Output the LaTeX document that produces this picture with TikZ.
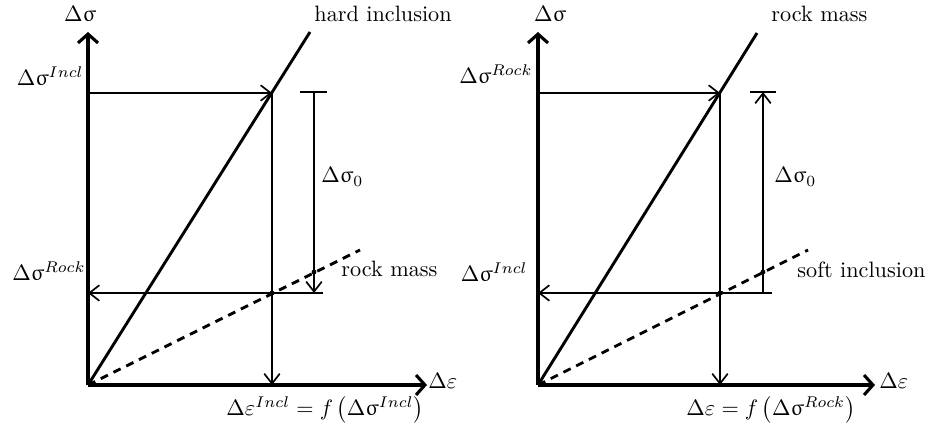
\documentclass[tikz,border=0pt]{standalone}
\usepackage{amsmath,amssymb}
\usepackage{upgreek}
\usepackage{tikz}
\usetikzlibrary{arrows.meta,positioning,calc}

\begin{document}
\begin{tikzpicture}[
  x=0.45pt, y=-0.45pt,
  axis/.style={line width=1.4pt, -{Straight Barb[length=4pt, width=9pt]}},
  curve/.style={line width=1.3pt},
  soft/.style={line width=1.3pt, dash pattern=on 3.6pt off 2.8pt},
  arr/.style={line width=0.75pt, -{Straight Barb[length=4.5pt, width=7pt]}},
  thin/.style={line width=0.75pt},
  dot/.style={circle, fill, inner sep=0pt, minimum size=2.2pt},
  lbl/.style={inner sep=0pt}
]
\useasboundingbox (0,0) rectangle (932,427);

% left: hard inclusion
\coordinate (oL) at (88,385);
\coordinate (yL) at (88,32);
\coordinate (xL) at (427,385);
\coordinate (hardEnd) at (310,32);
\coordinate (rockEndL) at (360,250);
\coordinate (topL) at (88,93);
\coordinate (hitL) at (272,93);
\coordinate (footL) at (272,385);
\coordinate (lowL) at (88,293);
\coordinate (lowEndL) at (323,293);
\coordinate (barLa) at (300,92);
\coordinate (barLb) at (327,92);
\coordinate (barLtop) at (314,92);
\coordinate (barLbot) at (314,293);
\node[dot] (crossL) at (272,293) {};
\node[dot] (cutL) at (314,272) {};

\draw[axis] (oL) -- (yL);
\draw[axis] (oL) -- (xL);
\draw[curve] (oL) -- (hardEnd);
\draw[soft] (oL) -- (rockEndL);
\draw[arr] (topL) -- (hitL);
\draw[arr] (hitL) -- (footL);
\draw[arr] (lowEndL) -- (lowL);
\draw[thin] (barLa) -- (barLb);
\draw[arr] (barLtop) -- (barLbot);

\node[lbl] (sigL) at (80,14) {$\Delta\upsigma$};
\node[lbl, anchor=west] (epsL) at (428,381) {$\Delta\varepsilon$};
\node[lbl, anchor=east] (inclL) at (84,76) {$\Delta\upsigma^{Incl}$};
\node[lbl, anchor=east] (rockL) at (86,271) {$\Delta\upsigma^{Rock}$};
\node[lbl, anchor=west] (hardLbl) at (314,14) {hard inclusion};
\node[lbl, anchor=west] (rockLbl) at (341,269) {rock mass};
\node[lbl, anchor=west] (dsL) at (321,177) {$\Delta\upsigma_0$};
\node[lbl, anchor=west] (fL) at (226,410) {$\Delta\varepsilon^{Incl}=f\left(\Delta\upsigma^{Incl}\right)$};

% right: soft inclusion
\coordinate (oR) at (538,385);
\coordinate (yR) at (538,32);
\coordinate (xR) at (875,385);
\coordinate (rockEndR) at (757,33);
\coordinate (softEnd) at (808,250);
\coordinate (topR) at (538,93);
\coordinate (hitR) at (720,93);
\coordinate (footR) at (720,385);
\coordinate (lowR) at (538,293);
\coordinate (lowEndR) at (772,293);
\coordinate (barRa) at (750,92);
\coordinate (barRb) at (776,92);
\coordinate (barRtop) at (763,92);
\coordinate (barRbot) at (763,293);
\node[dot] (crossR) at (720,293) {};
\node[dot] (cutR) at (763,272) {};

\draw[axis] (oR) -- (yR);
\draw[axis] (oR) -- (xR);
\draw[curve] (oR) -- (rockEndR);
\draw[soft] (oR) -- (softEnd);
\draw[arr] (topR) -- (hitR);
\draw[arr] (hitR) -- (footR);
\draw[arr] (lowEndR) -- (lowR);
\draw[thin] (barRa) -- (barRb);
\draw[arr] (barRbot) -- (barRtop);

\node[lbl] (sigR) at (550,14) {$\Delta\upsigma$};
\node[lbl, anchor=west] (epsR) at (879,381) {$\Delta\varepsilon$};
\node[lbl, anchor=east] (rockR) at (533,74) {$\Delta\upsigma^{Rock}$};
\node[lbl, anchor=east] (inclR) at (528,272) {$\Delta\upsigma^{Incl}$};
\node[lbl, anchor=west] (rockLbl2) at (771,14) {rock mass};
\node[lbl, anchor=west] (softLbl) at (797,270) {soft inclusion};
\node[lbl, anchor=west] (dsR) at (774,177) {$\Delta\upsigma_0$};
\node[lbl, anchor=west] (fR) at (686,410) {$\Delta\varepsilon=f\left(\Delta\upsigma^{Rock}\right)$};
\end{tikzpicture}
\end{document}
